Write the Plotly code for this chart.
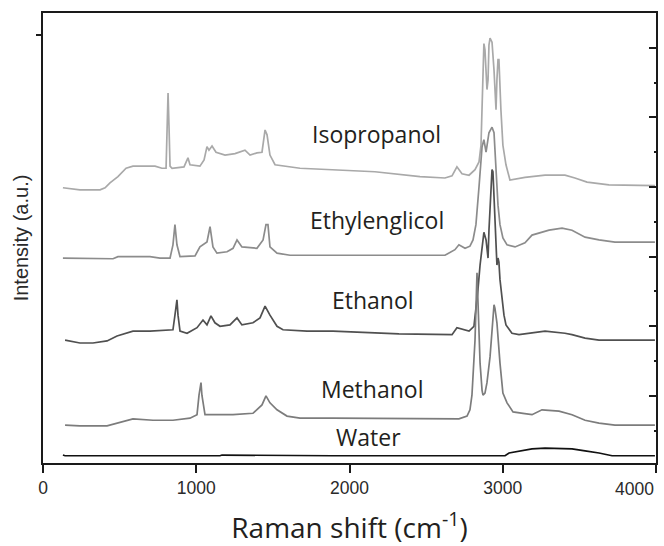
import plotly.graph_objects as go

# Raman shift (cm-1) and intensity (a.u., stacked with offsets)
iso_x = [130, 241, 372, 405, 437, 489, 542, 587, 731, 776, 803, 809, 816, 822, 829, 842, 920, 946, 959,
         1024, 1051, 1070, 1083, 1103, 1129, 1188, 1253, 1318, 1351, 1396, 1429, 1449, 1462, 1481, 1514,
         1677, 2166, 2460, 2623, 2669, 2701, 2734, 2780, 2819, 2845, 2858, 2871, 2877, 2884, 2897, 2904,
         2910, 2917, 2930, 2943, 2956, 2962, 2969, 2975, 2982, 2988, 3001, 3021, 3047, 3145, 3276, 3406,
         3471, 3550, 3693, 3993]
iso_y = [39.9, 39.6, 39.6, 39.9, 40.6, 41.5, 42.7, 43.0, 43.0, 42.7, 42.7, 49.6, 53.5, 48.9, 43.0, 42.7,
         42.9, 44.2, 43.2, 43.0, 43.9, 45.8, 45.3, 45.9, 45.0, 44.6, 44.8, 45.3, 44.6, 44.9, 45.0, 48.2,
         47.5, 44.6, 43.2, 42.7, 42.2, 41.5, 41.3, 41.6, 42.9, 41.9, 41.7, 42.5, 43.6, 46.0, 55.4, 60.6,
         59.7, 54.0, 55.4, 60.4, 61.4, 60.8, 56.8, 51.1, 55.4, 58.3, 58.3, 54.0, 51.1, 46.0, 43.2, 41.0,
         41.4, 41.7, 41.7, 41.3, 40.7, 40.3, 40.2]

eg_x = [130, 372, 457, 489, 698, 763, 829, 848, 861, 874, 894, 992, 1024, 1070, 1090, 1109, 1135, 1201,
        1240, 1266, 1298, 1396, 1436, 1455, 1468, 1481, 1527, 1612, 1892, 2623, 2688, 2714, 2754, 2786,
        2806, 2825, 2845, 2865, 2877, 2891, 2910, 2930, 2943, 2956, 2969, 2982, 3001, 3028, 3080, 3145,
        3191, 3302, 3387, 3452, 3537, 3628, 3732, 3993]
eg_y = [29.8, 29.7, 29.7, 30.0, 30.0, 29.8, 29.8, 31.7, 34.6, 31.7, 30.0, 30.1, 31.4, 32.1, 34.3, 31.4,
        30.5, 30.7, 31.2, 32.4, 31.4, 31.2, 32.4, 34.6, 34.6, 31.4, 30.5, 30.2, 30.2, 30.2, 31.0, 31.7,
        31.2, 31.5, 32.4, 34.6, 40.0, 45.8, 46.8, 45.0, 47.8, 48.6, 47.8, 41.7, 37.4, 34.6, 32.7, 31.7,
        31.4, 32.0, 33.1, 33.8, 34.1, 33.8, 32.8, 32.4, 32.1, 32.1]

eth_x = [144, 241, 326, 418, 483, 548, 587, 698, 848, 861, 874, 881, 894, 940, 1005, 1044, 1070, 1096,
         1122, 1155, 1220, 1266, 1298, 1370, 1416, 1449, 1481, 1527, 1566, 1723, 1892, 2323, 2669, 2701,
         2747, 2780, 2812, 2825, 2838, 2852, 2865, 2877, 2891, 2904, 2910, 2923, 2930, 2936, 2943, 2956,
         2962, 2969, 2975, 2982, 2995, 3008, 3021, 3060, 3106, 3276, 3406, 3452, 3537, 3628, 3732, 3993]
eth_y = [18.0, 17.6, 17.6, 17.9, 18.6, 19.0, 19.3, 19.3, 19.5, 21.6, 23.8, 21.6, 19.3, 19.0, 19.8, 20.9,
         20.2, 21.5, 20.5, 20.0, 20.2, 21.2, 20.2, 20.5, 21.2, 22.9, 21.6, 20.0, 19.5, 19.3, 19.3, 18.9,
         18.8, 19.8, 19.5, 19.3, 20.0, 22.3, 25.2, 28.8, 31.7, 33.5, 32.4, 29.8, 33.8, 40.3, 42.5, 42.2,
         38.1, 31.0, 28.8, 29.8, 29.2, 26.7, 23.8, 21.6, 20.2, 19.0, 18.8, 19.3, 19.0, 18.8, 18.3, 18.0,
         18.0, 18.0]

met_x = [144, 241, 418, 483, 548, 587, 718, 848, 959, 1005, 1018, 1031, 1037, 1050, 1057, 1240, 1370,
         1429, 1455, 1481, 1527, 1592, 1677, 1892, 2323, 2714, 2767, 2786, 2799, 2812, 2819, 2832, 2838,
         2852, 2865, 2871, 2884, 2897, 2917, 2936, 2943, 2949, 2962, 2982, 3001, 3028, 3067, 3132, 3191,
         3256, 3367, 3452, 3537, 3628, 3732, 3993]
met_y = [5.8, 5.7, 5.7, 6.1, 6.5, 6.7, 6.5, 6.5, 6.8, 7.3, 10.1, 11.9, 10.1, 8.0, 7.3, 7.3, 7.5, 8.7,
         10.0, 9.0, 8.0, 7.1, 6.8, 6.8, 6.7, 6.7, 7.1, 8.0, 10.1, 14.7, 18.0, 27.7, 24.2, 14.7, 10.8,
         10.1, 10.4, 11.9, 15.6, 21.9, 23.1, 22.6, 20.5, 14.7, 10.4, 9.0, 7.7, 7.5, 7.3, 8.0, 7.8, 7.3,
         6.5, 6.1, 5.8, 5.8]

wat_x = [130, 144, 1155, 1168, 1886, 3015, 3041, 3106, 3191, 3276, 3452, 3537, 3628, 3713, 3993]
wat_y = [1.5, 1.4, 1.4, 1.5, 1.4, 1.4, 1.8, 2.1, 2.4, 2.5, 2.4, 2.1, 1.8, 1.4, 1.4]

names = ["Isopropanol", "Ethylenglicol", "Ethanol", "Methanol", "Water"]
label_x = [2179, 2179, 2153, 2147, 2121]
label_y = [47.6, 35.3, 23.8, 11.0, 4.1]
colors = ["#a9a9a9", "#8c8c8c", "#505050", "#7c7c7c", "#111111"]

x_ticks = [0, 1000, 2000, 3000, 4000]
y_range = [0.36, 65.0]

tick_font = dict(family="Liberation Sans", size=17.5, color="#2a2a2a")

series = [(iso_x, iso_y), (eg_x, eg_y), (eth_x, eth_y), (met_x, met_y), (wat_x, wat_y)]

fig = go.Figure()
for i, (xs, ys) in enumerate(series):
    fig.add_trace(go.Scatter(
        x=xs, y=ys, mode="lines", name=names[i],
        line=dict(color=colors[i], width=1.7),
        yaxis="y2" if names[i] == "Water" else "y",
        showlegend=False, hoverinfo="skip"))

for i, n in enumerate(names):
    fig.add_annotation(x=label_x[i], y=label_y[i], text=n, showarrow=False,
                       xref="x", yref="y",
                       font=dict(family="Open Sans", size=23, color="#231f20"))

# last tick label sits right-aligned against the frame in the reference
fig.add_annotation(x=x_ticks[-1], y=0, xref="x", yref="paper", text=str(x_ticks[-1]),
                   xanchor="right", yanchor="top", yshift=-14, showarrow=False, font=tick_font)

fig.update_layout(
    width=664, height=546,
    margin=dict(l=43, r=8, t=13, b=83),
    paper_bgcolor="white", plot_bgcolor="white",
    xaxis=dict(
        range=[0, 4000], tickvals=x_ticks, automargin=False,
        ticktext=[str(v) for v in x_ticks[:-1]] + [""],
        showgrid=False, zeroline=False,
        showline=True, linecolor="#1a1a1a", linewidth=2, mirror=True,
        ticks="outside", ticklen=8, tickwidth=2, tickcolor="#1a1a1a",
        tickfont=tick_font,
        title=dict(text="Raman shift (cm<sup>-1</sup>)", standoff=27,
                   font=dict(family="Open Sans", size=28, color="#231f20")),
    ),
    yaxis=dict(
        range=y_range, tickvals=[61.9], showticklabels=False, automargin=False,
        showgrid=False, zeroline=False,
        showline=True, linecolor="#1a1a1a", linewidth=2, mirror=True,
        ticks="outside", ticklen=5, tickwidth=2, tickcolor="#1a1a1a",
        title=dict(text="Intensity (a.u.)", standoff=2,
                   font=dict(family="Liberation Sans", size=20, color="#2a2a2a")),
    ),
    yaxis2=dict(
        range=y_range, overlaying="y", side="right", anchor="x", automargin=False,
        tick0=0, dtick=10, showticklabels=False,
        showgrid=False, zeroline=False, showline=True, linecolor="#1a1a1a", linewidth=2,
        ticks="inside", ticklen=7, tickwidth=2, tickcolor="#1a1a1a",
        minor=dict(ticks="inside", ticklen=2, tickwidth=2, dtick=5, tick0=0, tickcolor="#1a1a1a", showgrid=False),
    ),
)

fig.write_html("out.html")
